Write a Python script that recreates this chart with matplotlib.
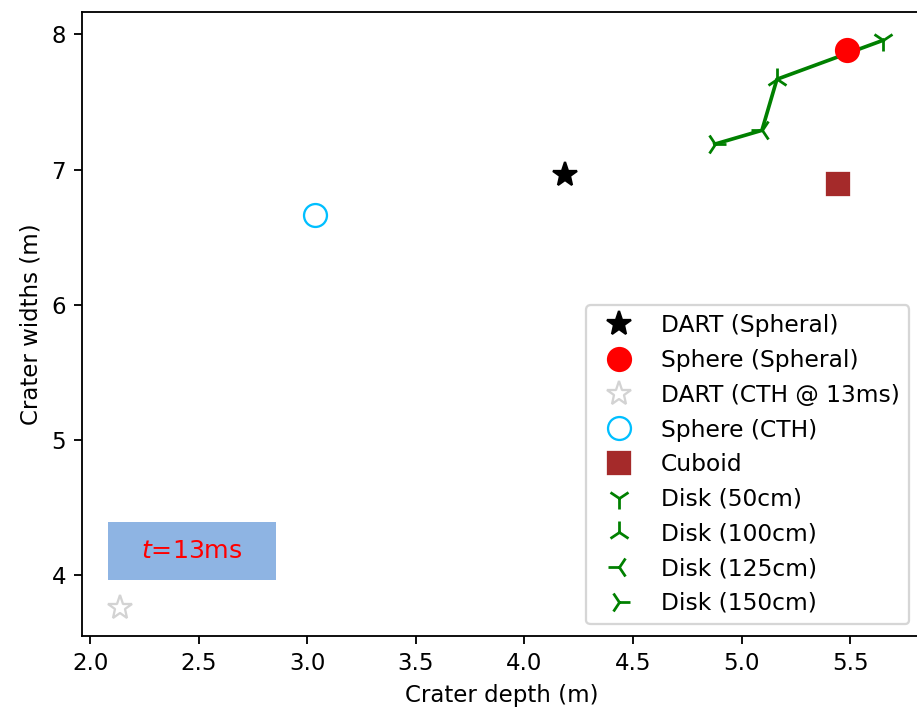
import matplotlib
matplotlib.use("Agg")
import matplotlib.pyplot as plt
from matplotlib.patches import Rectangle

# Data
dart_spheral = (4.185, 6.96)
sphere_spheral = (5.485, 7.885)
dart_cth = (2.138, 3.757)
sphere_cth = (3.037, 6.664)
cuboid = (5.445, 6.893)

disk_labels = ["Disk (50cm)", "Disk (100cm)", "Disk (125cm)", "Disk (150cm)"]
disk_x = [5.651, 5.163, 5.094, 4.877]
disk_y = [7.956, 7.668, 7.290, 7.188]
disk_markers = ["1", "2", "3", "4"]

DPI = 165
fig = plt.figure(figsize=(917 / DPI, 709 / DPI), dpi=DPI)
ax = fig.add_axes([82 / 917, 73 / 709, 839 / 917, 624 / 709])

ax.plot(*dart_spheral, marker="*", color="black", ms=11, ls="none", label="DART (Spheral)")
ax.plot(*sphere_spheral, marker="o", color="red", ms=10, ls="none", label="Sphere (Spheral)")
ax.plot(*dart_cth, marker="*", mfc="none", mec="lightgray", ms=11, ls="none", label="DART (CTH @ 13ms)")
ax.plot(*sphere_cth, marker="o", mfc="none", mec="deepskyblue", ms=10, ls="none", label="Sphere (CTH)")
ax.plot(*cuboid, marker="s", color="brown", ms=10, ls="none", label="Cuboid")

ax.plot(disk_x, disk_y, color="green", lw=1.6, zorder=1)
for x, y, m, lab in zip(disk_x, disk_y, disk_markers, disk_labels):
    ax.plot(x, y, marker=m, color="green", ms=10, mew=1.2, ls="none", label=lab)

ax.set_xlabel("Crater depth (m)")
ax.set_ylabel("Crater widths (m)")
ax.legend(loc="lower right", fontsize=10.2)

# annotation box
ax.add_patch(Rectangle((0.031, 0.0897), 0.200, 0.093, transform=ax.transAxes,
                       facecolor="#8EB4E3", edgecolor="none", zorder=5))
ax.text(0.131, 0.136, "$t$=13ms", transform=ax.transAxes, color="red",
        fontsize=11, ha="center", va="center", zorder=6)

fig.savefig("out.png", dpi=DPI)
